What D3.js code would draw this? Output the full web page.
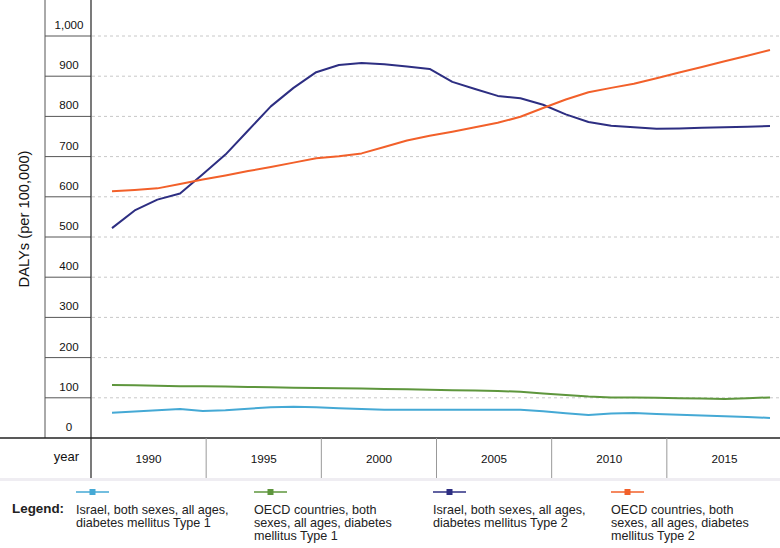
<!DOCTYPE html>
<html>
<head>
<meta charset="utf-8">
<script src="https://cdn.jsdelivr.net/npm/d3@7/dist/d3.min.js"></script>
<style>
  html, body { margin: 0; padding: 0; background: #fff; }
  svg { display: block; font-family: "Liberation Sans", Arial, Helvetica, sans-serif; }
</style>
</head>
<body>
<svg id="chart" width="780" height="548"></svg>
<script>
// ---- data ----
const years = d3.range(1990, 2020);
const bandLabels = ["1990", "1995", "2000", "2005", "2010", "2015"];
const yTicks = [0, 100, 200, 300, 400, 500, 600, 700, 800, 900, 1000];

const israelT1 = [63, 66, 69, 72, 67, 69, 73, 76.5, 78, 76.5, 74, 72, 70, 70, 70, 70, 70, 70, 70, 66.5, 61.5, 57.5, 61, 62, 60, 58, 56, 54, 52, 50];
const oecdT1   = [132, 131, 130, 129, 128.5, 128, 127, 126, 125, 124.5, 124, 123, 122, 121, 120, 119, 118, 117, 115, 111, 107, 103, 101, 100.5, 100, 99, 98, 97, 99, 101];
const israelT2 = [522, 566, 593, 608, 656, 705, 765, 825, 871, 910, 928, 933, 930, 924, 918, 886, 868, 851, 845, 829, 805, 786, 777, 773, 769, 770, 771.5, 773, 774, 776];
const oecdT2   = [614, 617, 621, 632, 643, 653, 664, 674, 685, 696, 701, 708, 724, 740, 752, 762, 773, 784, 799, 821, 842, 860, 871, 881, 895, 909, 923, 937, 951, 965];

const seriesNames = [
  ["Israel, both sexes, all ages,", "diabetes mellitus Type 1"],
  ["OECD countries, both", "sexes, all ages, diabetes", "mellitus Type 1"],
  ["Israel, both sexes, all ages,", "diabetes mellitus Type 2"],
  ["OECD countries, both", "sexes, all ages, diabetes", "mellitus Type 2"]
];
const seriesColors = ["#45a9d5", "#5e963d", "#2d2e82", "#f2602a"];
const seriesValues = [israelT1, oecdT1, israelT2, oecdT2];

// ---- layout ----
const svg = d3.select("#chart");
const W = 780;
const boxLeft = 45, plotLeft = 91, plotRight = 780;
const yBottom = 438, yTop = 36;
const axisBottom = 478;

const y = d3.scaleLinear().domain([0, 1000]).range([yBottom, yTop]);
const x = d3.scaleLinear().domain([1990, 2019]).range([112, 770]);
const xb = d3.scaleBand().domain(bandLabels).range([plotLeft, 782]);

// grid lines
svg.append("g").selectAll("line")
  .data(yTicks.filter(d => d > 0))
  .join("line")
  .attr("x1", plotLeft + 1).attr("x2", plotRight)
  .attr("y1", d => y(d)).attr("y2", d => y(d))
  .attr("stroke", "#c8c8c8").attr("stroke-width", 1)
  .attr("stroke-dasharray", "3,3");

// y tick boxes
svg.append("g").selectAll("line")
  .data(yTicks.filter(d => d > 0))
  .join("line")
  .attr("x1", boxLeft).attr("x2", plotLeft)
  .attr("y1", d => y(d)).attr("y2", d => y(d))
  .attr("stroke", "#555").attr("stroke-width", 1);

svg.append("line").attr("x1", boxLeft).attr("x2", boxLeft)
  .attr("y1", 0).attr("y2", yBottom).attr("stroke", "#555").attr("stroke-width", 1);
svg.append("line").attr("x1", plotLeft).attr("x2", plotLeft)
  .attr("y1", 0).attr("y2", axisBottom).attr("stroke", "#333").attr("stroke-width", 1.3);

// y tick labels
const fmt = d3.format(",");
svg.append("g").selectAll("text")
  .data(yTicks)
  .join("text")
  .attr("x", (boxLeft + plotLeft) / 2 + 1)
  .attr("y", d => y(d) - 7)
  .attr("text-anchor", "middle")
  .attr("font-size", 11.6)
  .attr("fill", "#111")
  .text(d => fmt(d));

// y axis title
svg.append("text")
  .attr("transform", `translate(29,${219}) rotate(-90)`)
  .attr("text-anchor", "middle")
  .attr("font-size", 14.7)
  .attr("fill", "#111")
  .text("DALYs (per 100,000)");

// bottom axis line
svg.append("line").attr("x1", 0).attr("x2", W)
  .attr("y1", yBottom).attr("y2", yBottom).attr("stroke", "#222").attr("stroke-width", 1.3);

// x band separators
svg.append("g").selectAll("line")
  .data(bandLabels.slice(1))
  .join("line")
  .attr("x1", d => xb(d)).attr("x2", d => xb(d))
  .attr("y1", yBottom).attr("y2", axisBottom)
  .attr("stroke", "#999").attr("stroke-width", 1);

// band labels
svg.append("g").selectAll("text")
  .data(bandLabels)
  .join("text")
  .attr("x", d => xb(d) + xb.bandwidth() / 2)
  .attr("y", 463)
  .attr("text-anchor", "middle")
  .attr("font-size", 11.7)
  .attr("fill", "#111")
  .text(d => d);

svg.append("text").attr("x", 79).attr("y", 461)
  .attr("text-anchor", "end").attr("font-size", 13).attr("fill", "#111").text("year");

// light strip under axis
svg.append("rect").attr("x", 0).attr("y", axisBottom).attr("width", W).attr("height", 3)
  .attr("fill", "#efedf2");

// lines
const line = d3.line().x((d, i) => x(years[i])).y(d => y(d));
svg.append("g").selectAll("path")
  .data(seriesValues)
  .join("path")
  .attr("d", d => line(d))
  .attr("fill", "none")
  .attr("stroke", (d, i) => seriesColors[i])
  .attr("stroke-width", 2)
  .attr("stroke-linejoin", "round");

// legend
svg.append("text").attr("x", 12).attr("y", 513)
  .attr("font-size", 13.4).attr("font-weight", "bold").attr("fill", "#222").text("Legend:");

const legendX = [76, 254, 433, 611];
const lg = svg.append("g").selectAll("g")
  .data(seriesNames)
  .join("g")
  .attr("transform", (d, i) => `translate(${legendX[i]},0)`);
lg.append("line").attr("x1", 0).attr("x2", 33).attr("y1", 492).attr("y2", 492)
  .attr("stroke", (d, i) => seriesColors[i]).attr("stroke-width", 1.5);
lg.append("rect").attr("x", 13.5).attr("y", 489).attr("width", 6).attr("height", 6)
  .attr("fill", (d, i) => seriesColors[i]);
lg.append("text")
  .attr("font-size", 12.6)
  .attr("fill", "#222")
  .selectAll("tspan")
  .data(d => d)
  .join("tspan")
  .attr("x", 0)
  .attr("y", (d, j) => 514 + j * 13.2)
  .text(d => d);
</script>
</body>
</html>
